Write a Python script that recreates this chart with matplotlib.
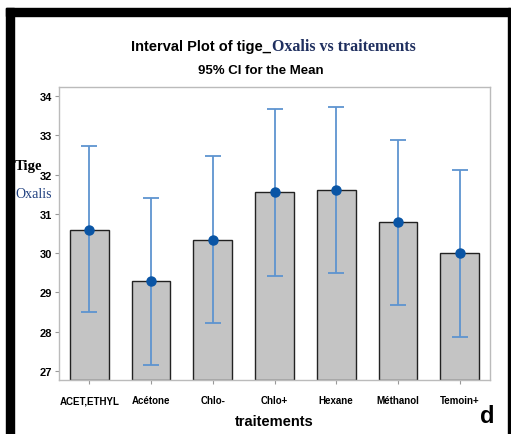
import numpy as np
import matplotlib.pyplot as plt
from matplotlib.patches import Rectangle

# data
traitements = ['ACET,ETHYL', 'Acétone', 'Chlo-', 'Chlo+', 'Hexane', 'Méthanol', 'Temoin+']
moyenne = [30.58, 29.29, 30.34, 31.56, 31.61, 30.79, 30.00]
ci_haut = [32.73, 31.40, 32.47, 33.67, 33.72, 32.88, 32.12]
ci_bas = [28.50, 27.16, 28.22, 29.42, 29.50, 28.68, 27.87]
yticks = [27, 28, 29, 30, 31, 32, 33, 34]

narrow = ['Liberation Sans Narrow', 'DejaVu Sans Condensed', 'Liberation Sans', 'DejaVu Sans']
serif = ['Liberation Serif', 'DejaVu Serif']

W, H = 511, 435
fig = plt.figure(figsize=(W / 100, H / 100), dpi=100)

# black frame (top and left thick, right thin)
fig.patches.append(Rectangle((6 / W, 0), 8 / W, 1 - 9 / H, transform=fig.transFigure,
                             color='black', zorder=0))
fig.patches.append(Rectangle((6 / W, 1 - 17 / H), 1 - 6 / W, 8 / H, transform=fig.transFigure,
                             color='black', zorder=0))
fig.patches.append(Rectangle((508 / W, 0), 2 / W, 1 - 9 / H, transform=fig.transFigure,
                             color='black', zorder=0))

ax = fig.add_axes([59 / W, 1 - 381 / H, (490 - 59) / W, (381 - 88) / H])
x = np.arange(len(traitements))
moyenne = np.array(moyenne)
ci_haut = np.array(ci_haut)
ci_bas = np.array(ci_bas)

base = 26.77
ax.bar(x, moyenne - base, bottom=base, width=0.63, color='#C4C4C4',
       edgecolor='#222222', linewidth=1.0, zorder=2)
ax.errorbar(x, moyenne, yerr=[moyenne - ci_bas, ci_haut - moyenne], fmt='none',
            ecolor='#5E94D0', elinewidth=1.3, capsize=5.5, capthick=1.3, zorder=3)
ax.plot(x, moyenne, 'o', color='#0A55A5', markersize=6.5, zorder=4)

ax.set_xlim(-0.49, 6.49)
ax.set_ylim(base, 34.23)
ax.set_yticks(yticks)
ax.set_xticks(x)
ax.set_xticklabels(traitements, fontfamily=narrow, fontsize=7, fontweight='bold')
ax.set_yticklabels([str(v) for v in yticks], fontfamily=narrow, fontsize=8, fontweight='bold')
for s in ax.spines.values():
    s.set_color('#BBBBBB')
    s.set_linewidth(1.0)
ax.tick_params(axis='both', color='#999999', length=3, width=0.8, pad=8)
ax.tick_params(axis='y', pad=2)

ax.set_xlabel('traitements', fontfamily=narrow, fontsize=10.5, fontweight='bold', labelpad=6)

# title in two fonts
fig.text(271 / W, 1 - 47 / H, 'Interval Plot of tige_', ha='right', va='center',
         fontfamily=narrow, fontsize=10.5, fontweight='bold', color='black')
fig.text(272 / W, 1 - 47 / H, 'Oxalis vs traitements', ha='left', va='center',
         fontfamily=serif, fontsize=11.5, fontweight='bold', color='#1F2F5F')
fig.text(261 / W, 1 - 71 / H, '95% CI for the Mean', ha='center', va='center',
         fontfamily=narrow, fontsize=9.5, fontweight='bold', color='black')

# y label
fig.text(15 / W, 1 - 167 / H, 'Tige', ha='left', va='center',
         fontfamily=serif, fontsize=10.5, fontweight='bold', color='black')
fig.text(15 / W, 1 - 195 / H, 'Oxalis', ha='left', va='center',
         fontfamily=serif, fontsize=10, color='#1F3F7F')

fig.text(487 / W, 1 - 417 / H, 'd', ha='center', va='center',
         fontfamily=['Liberation Sans', 'DejaVu Sans'], fontsize=17, fontweight='bold')

fig.savefig('out.png', dpi=100)
